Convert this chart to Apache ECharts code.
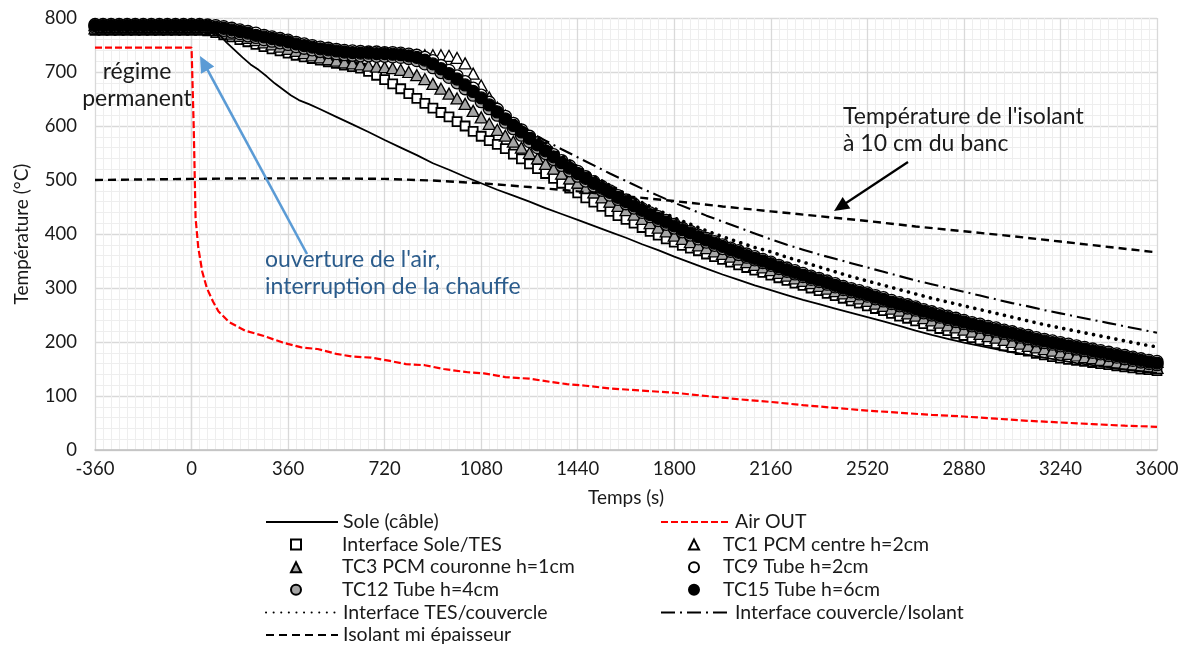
<!DOCTYPE html>
<html><head><meta charset="utf-8">
<script src="https://cdn.jsdelivr.net/npm/echarts@6.0.0/dist/echarts.min.js"></script>
<style>html,body{margin:0;padding:0;background:#fff}#c{width:1186px;height:651px}</style>
</head><body><div id="c"></div>
<script>
// ---------- axis ranges ----------
const X_MIN = -360, X_MAX = 3600, X_STEP = 360;
const Y_MIN = 0, Y_MAX = 800, Y_STEP = 100;

// ---------- time base of the marker series (s) ----------
const TIME_30S = [
 -360,-330,-300,-270,-240,-210,-180,-150,-120,-90,-60,-30,
 0,30,60,90,120,150,180,210,240,270,300,330,
 360,390,420,450,480,510,540,570,600,630,660,690,
 720,750,780,810,840,870,900,930,960,990,1020,1050,
 1080,1110,1140,1170,1200,1230,1260,1290,1320,1350,1380,1410,
 1440,1470,1500,1530,1560,1590,1620,1650,1680,1710,1740,1770,
 1800,1830,1860,1890,1920,1950,1980,2010,2040,2070,2100,2130,
 2160,2190,2220,2250,2280,2310,2340,2370,2400,2430,2460,2490,
 2520,2550,2580,2610,2640,2670,2700,2730,2760,2790,2820,2850,
 2880,2910,2940,2970,3000,3030,3060,3090,3120,3150,3180,3210,
 3240,3270,3300,3330,3360,3390,3420,3450,3480,3510,3540,3570,
 3600];

const INTERFACE_SOLE_TES = [
 777,777,777,777,777,777,777,777,777,777,777,777,
 777,777,776,773,769,765,760,756,751,747,743,739,
 735,731,728,725,722,719,716,713,710,707,701,694,
 686,678,669,660,651,642,633,625,617,608,600,590,
 581,573,566,558,548,539,530,521,512,503,494,485,
 476,467,459,451,442,434,427,420,412,405,398,391,
 385,379,374,369,363,358,353,348,343,338,333,329,
 324,319,314,309,305,300,295,290,286,281,276,272,
 267,262,258,253,248,244,239,234,230,225,221,216,
 212,208,204,201,197,193,190,186,183,179,176,173,
 170,168,166,164,162,160,158,156,154,152,150,149,
 147];

const TC1 = [
 787,787,787,787,787,787,787,787,787,787,787,787,
 787,787,786,784,782,779,776,773,769,766,763,760,
 757,753,750,747,745,742,740,738,737,736,736,735,
 735,734,733,732,731,731,731,731,730,726,716,697,
 675,653,634,619,605,592,579,567,556,545,534,524,
 514,505,496,487,479,470,462,454,446,438,431,424,
 417,410,404,397,391,385,379,373,368,362,357,352,
 347,341,336,331,326,321,317,312,307,302,298,294,
 290,285,281,276,272,268,264,259,255,251,247,243,
 239,235,232,228,225,221,218,214,211,207,204,201,
 198,195,192,189,186,183,180,177,174,171,168,165,
 163];

const TC3 = [
 781,781,781,781,781,781,781,781,781,781,781,781,
 781,781,780,778,775,771,767,763,759,755,751,747,
 743,739,735,731,727,724,721,718,716,714,712,710,
 709,707,704,700,694,687,678,669,660,651,641,628,
 616,604,593,582,571,560,550,540,530,521,512,503,
 495,486,477,468,460,452,444,436,428,420,412,405,
 397,391,385,379,374,368,363,358,353,348,343,338,
 333,328,323,318,313,309,304,299,294,290,285,281,
 276,271,267,262,258,253,249,244,240,236,231,227,
 223,219,215,211,208,204,200,197,193,190,187,184,
 181,178,175,172,170,167,165,162,160,158,156,154,
 152];

const TC9 = [
 788,788,788,788,788,788,788,788,788,788,788,788,
 788,788,787,786,784,781,778,775,772,768,765,762,
 759,755,752,749,746,744,742,740,739,738,737,737,
 736,736,735,733,731,727,721,712,703,693,682,670,
 657,644,631,618,605,593,581,569,558,547,536,526,
 516,506,497,488,480,471,463,455,447,439,432,425,
 418,411,405,398,392,386,380,374,369,363,358,353,
 348,342,337,332,327,322,318,313,308,303,299,295,
 291,286,282,277,273,269,265,260,256,252,248,244,
 240,236,233,229,226,222,219,215,212,208,205,202,
 199,196,193,190,187,184,181,178,175,172,169,166,
 164];

const TC12 = [
 783,783,783,783,783,783,783,783,783,783,783,783,
 783,783,782,780,777,774,771,767,764,760,757,754,
 751,747,744,741,738,736,734,732,731,730,730,729,
 729,728,727,725,721,715,708,699,690,680,669,657,
 645,632,620,607,595,583,571,560,549,538,527,517,
 507,498,489,481,472,464,456,448,440,432,425,418,
 411,404,398,391,385,379,373,368,362,357,352,347,
 342,336,331,326,321,316,312,307,302,297,293,289,
 285,280,276,271,267,263,259,254,250,246,242,238,
 234,230,227,223,220,216,213,209,206,202,199,196,
 193,190,187,184,181,178,175,172,169,166,163,160,
 158];

const TC15 = [
 786,786,786,786,786,786,786,786,786,786,786,786,
 786,786,785,783,781,778,775,772,768,765,762,759,
 756,752,749,746,743,741,739,737,736,735,735,734,
 734,733,732,730,727,722,715,706,697,687,676,664,
 652,639,626,613,601,589,577,565,554,543,532,522,
 512,503,494,485,477,468,460,452,444,436,429,422,
 415,408,402,395,389,383,377,371,366,360,355,350,
 345,339,334,329,324,319,315,310,305,300,296,292,
 288,283,279,274,270,266,262,257,253,249,245,241,
 237,233,230,226,223,219,216,212,209,205,202,199,
 196,193,190,187,184,181,178,175,172,169,166,163,
 161];

// ---------- line series ----------
const SOLE_T = [-360,0,60,90,110,130,160,190,220,250,280,310,340,370,400,440,480,540,600,660,
 720,780,840,900,960,1020,1080,1140,1200,1260,1320,1380,1440,1500,1560,1620,1680,1740,1800,1860,
 1920,1980,2040,2100,2160,2220,2280,2340,2400,2460,2520,2580,2640,2700,2760,2820,2880,2940,3000,3060,
 3120,3180,3240,3300,3360,3420,3480,3540,3600];
const SOLE_V = [773,773,773,772,766,755,741,727,714,704,692,679,668,657,648,640,631,617,603,589,
 574,560,546,531,519,506,494,482,471,460,448,437,426,415,404,393,381,370,358,347,
 336,325,315,305,296,287,278,270,262,254,246,238,230,221,213,206,199,193,187,181,
 176,171,166,161,157,153,149,146,143];

const AIR_T = [-360,0,8,15,25,40,57,80,100,140,200,270,340,410,470,540,600,670,740,800,
 870,940,1030,1090,1170,1260,1340,1400,1470,1560,1680,1800,1920,2040,2160,2280,2400,2520,2640,2760,
 2880,3000,3120,3240,3360,3480,3600];
const AIR_V = [745,745,600,430,375,330,300,275,257,237,221,211,199,190,187,178,173,171,165,159,
 157,150,144,142,135,132,126,122,119,114,110,106,100,94,89,83,78,73,69,65,
 62,58,54,51,48,45,43];

const LID_T = [-360,0,60,120,180,240,300,360,420,480,540,600,660,720,780,840,900,960,1020,1080,
 1140,1200,1260,1320,1380,1440,1500,1560,1620,1680,1740,1800,1860,1920,1980,2040,2100,2160,2220,2280,
 2340,2400,2460,2520,2580,2640,2700,2760,2820,2880,2940,3000,3060,3120,3180,3240,3300,3360,3420,3480,
 3540,3600];
const TES_LID_V = [784,784,783,779,773,766,760,754,747,741,737,734,733,732,730,724,712,694,674,652,
 634,612,590,568,546,524,507,490,474,458,444,430,418,406,395,385,375,367,357,348,
 339,330,321,313,305,297,289,281,274,267,260,253,246,239,232,226,220,214,208,202,
 196,191];
const LID_INS_V = [783,783,782,778,772,765,759,753,746,740,736,734,733,732,730,725,713,696,677,655,
 631,608,589,573,557,542,527,512,498,484,471,458,446,434,423,412,401,390,380,371,
 362,354,346,338,330,322,314,307,300,293,286,279,272,266,259,253,247,241,235,229,
 223,217];

const INS_T = [-360,-180,0,180,360,540,720,900,1080,1260,1440,1620,1800,1980,2160,2340,2520,2700,2880,3060,3240,3420,3600];
const INS_V = [500,501,502,503,503,503,502,499,494,487,479,470,461,451,442,433,424,414,405,396,386,376,366];

// ---------- build ----------
const FONT = 'Lato, "Open Sans", sans-serif';
const TXT = '#1a1a1a';
const pairs = (ts, vs) => ts.map((t, i) => [t, vs[i]]);

const lineS = (name, ts, vs, ls) => ({
  name, type: 'line', data: pairs(ts, vs), symbol: 'none', showSymbol: false,
  lineStyle: ls, itemStyle: { color: ls.color }, animation: false, clip: true
});
const markS = (name, vs, symbol, size, fill, bw) => ({
  name, type: 'scatter', data: pairs(TIME_30S, vs), symbol, symbolSize: size,
  itemStyle: { color: fill, borderColor: '#000', borderWidth: bw, opacity: 1 }, animation: false
});

const series = [
  lineS('Sole (câble)', SOLE_T, SOLE_V, { color: '#000', width: 1.8, type: 'solid' }),
  lineS('Air OUT', AIR_T, AIR_V, { color: '#ff0000', width: 2.2, type: [7, 3] }),
  markS('Interface Sole/TES', INTERFACE_SOLE_TES, 'rect', 9, '#ffffff', 1.8),
  markS('TC1 PCM centre h=2cm', TC1, 'triangle', [12, 11], '#ffffff', 1.3),
  markS('TC3 PCM couronne h=1cm', TC3, 'triangle', [12, 11], '#a5a5a5', 1.3),
  markS('TC9 Tube h=2cm', TC9, 'circle', 12, '#ffffff', 1.3),
  markS('TC12 Tube h=4cm', TC12, 'circle', 12, '#a5a5a5', 1.3),
  markS('TC15 Tube h=6cm', TC15, 'circle', 12, '#000000', 1.3),
  lineS('Interface TES/couvercle', LID_T, TES_LID_V, { color: '#000', width: 3.6, type: [0.1, 7.5], cap: 'round' }),
  lineS('Interface couvercle/Isolant', LID_T, LID_INS_V, { color: '#000', width: 2.1, type: [14, 5, 2, 5] }),
  lineS('Isolant mi épaisseur', INS_T, INS_V, { color: '#000', width: 2.4, type: [8, 5] })
];

const ROW = 22.6, ROW1 = 522;
const topOf = r => ROW1 + r * ROW - ROW / 2;
const hideSym = n => ({ name: n, itemStyle: { opacity: 0 } });
const legStyle = (padLeft) => ({ fontFamily: FONT, fontSize: 19.5, color: TXT, lineHeight: 22.6, padding: [0, 0, 0, padLeft] });
const leg = (o, padLeft) => Object.assign({ orient: 'vertical', itemGap: 0, selectedMode: false, padding: 0, textStyle: legStyle(padLeft) }, o);

const legend = [
  leg({ left: 265, top: topOf(0), itemWidth: 72, itemHeight: 12, data: [hideSym('Sole (câble)')] }, 0),
  leg({ left: 290, top: topOf(1), itemWidth: 10, itemHeight: 10,
    data: ['Interface Sole/TES', 'TC3 PCM couronne h=1cm', 'TC12 Tube h=4cm'] }, 36),
  leg({ left: 265, top: topOf(4), itemWidth: 72, itemHeight: 12,
    data: [hideSym('Interface TES/couvercle'), hideSym('Isolant mi épaisseur')] }, 0),
  leg({ left: 660, top: topOf(0), itemWidth: 69, itemHeight: 12, data: [hideSym('Air OUT')] }, 0),
  leg({ left: 688, top: topOf(1), itemWidth: 10, itemHeight: 10,
    data: ['TC1 PCM centre h=2cm', 'TC9 Tube h=2cm', 'TC15 Tube h=6cm'] }, 19),
  leg({ left: 660, top: topOf(4), itemWidth: 69, itemHeight: 12, data: [hideSym('Interface couvercle/Isolant')] }, 0)
];

function arrow(x1, y1, x2, y2, color, w, hl, hw) {
  const dx = x2 - x1, dy = y2 - y1, L = Math.hypot(dx, dy), ux = dx / L, uy = dy / L;
  const bx = x2 - ux * hl, by = y2 - uy * hl;
  return [
    { type: 'line', silent: true, z: 100, shape: { x1, y1, x2: bx + ux * 1, y2: by + uy * 1 }, style: { stroke: color, lineWidth: w } },
    { type: 'polygon', silent: true, z: 100, shape: { points: [[x2, y2], [bx - uy * hw, by + ux * hw], [bx + uy * hw, by - ux * hw]] }, style: { fill: color } }
  ];
}
const annText = (x, y, text, color, align) => ({
  type: 'text', silent: true, z: 100, x, y,
  style: { text, fill: color, fontFamily: FONT, fontSize: 23, lineHeight: 27, align, verticalAlign: 'top' }
});

const graphic = [
  annText(137, 58, 'régime\npermanent', TXT, 'center'),
  annText(265, 246, "ouverture de l'air,\ninterruption de la chauffe", '#2b5c8c', 'left'),
  annText(843, 103, "Température de l'isolant\nà 10 cm du banc", TXT, 'left'),
  ...arrow(307, 254, 200, 56, '#5b9bd5', 2.6, 16, 7.5),
  ...arrow(908, 162, 834, 211, '#000000', 2.2, 15, 7)
];

const chart = echarts.init(document.getElementById('c'), null, { renderer: 'canvas' });
chart.setOption({
  animation: false,
  backgroundColor: '#ffffff',
  grid: { left: 95, top: 18, width: 1062, height: 432, containLabel: false },
  xAxis: {
    type: 'value', min: X_MIN, max: X_MAX, interval: X_STEP,
    name: 'Temps (s)', nameLocation: 'middle', nameGap: 38,
    nameTextStyle: { fontFamily: FONT, fontSize: 19, color: TXT },
    axisLine: { show: true, onZero: false, lineStyle: { color: '#bfbfbf', width: 1.5 } },
    axisTick: { show: false },
    axisLabel: { fontFamily: FONT, fontSize: 18.5, color: TXT, margin: 10, formatter: v => String(v) },
    splitLine: { show: true, lineStyle: { color: '#d9d9d9', width: 1.3 } },
    minorTick: { show: false, splitNumber: 12 },
    minorSplitLine: { show: true, lineStyle: { color: '#eeeeee', width: 1 } }
  },
  yAxis: {
    type: 'value', min: Y_MIN, max: Y_MAX, interval: Y_STEP,
    name: 'Température (°C)', nameLocation: 'middle', nameGap: 64, nameRotate: 90,
    nameTextStyle: { fontFamily: FONT, fontSize: 19, color: TXT },
    axisLine: { show: true, lineStyle: { color: '#d9d9d9', width: 1.3 } },
    axisTick: { show: false },
    axisLabel: { fontFamily: FONT, fontSize: 18.5, color: TXT, margin: 18, formatter: v => String(v) },
    splitLine: { show: true, lineStyle: { color: '#d9d9d9', width: 1.3 } },
    minorTick: { show: false, splitNumber: 5 },
    minorSplitLine: { show: true, lineStyle: { color: '#eeeeee', width: 1 } }
  },
  legend,
  series,
  graphic
});
</script>
</body></html>
